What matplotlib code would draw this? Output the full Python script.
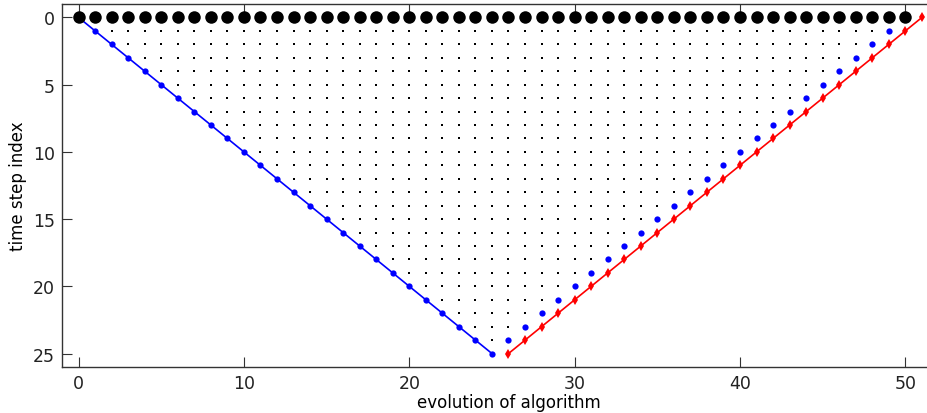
import matplotlib
matplotlib.use("Agg")
import matplotlib.pyplot as plt
import numpy as np

# ── Data ──────────────────────────────────────────────────────────────────────
top_x = list(range(0, 51))              # big black dots on row 0
top_y = [0] * len(top_x)

blue_line_x = list(range(0, 26))        # blue diagonal (forward sweep)
blue_line_y = list(range(0, 26))

red_line_x = list(range(26, 52))        # red diagonal (backward sweep)
red_line_y = list(range(25, -1, -1))

blue_pts_x = list(range(49, 25, -1))    # loose blue dots, rows 1..24
blue_pts_y = list(range(1, 25))

# interior black dots: row r spans x = r+1 .. 49-r
grid_x = [x for r in range(1, 25) for x in range(r + 1, 50 - r)]
grid_y = [r for r in range(1, 25) for x in range(r + 1, 50 - r)]

# ── Plot ──────────────────────────────────────────────────────────────────────
fig = plt.figure(figsize=(9.28, 4.14), dpi=100)
ax = fig.add_axes([62 / 928, 46 / 414, (955 - 62) / 928, (368 - 5) / 414])

ax.plot(grid_x, grid_y, "s", color="black", ms=2.0, mec="black", mew=0)
ax.plot(blue_pts_x, blue_pts_y, "o", color="blue", ms=4.5, mew=0)
ax.plot(blue_line_x, blue_line_y, "o-", color="blue", ms=4.5, mew=0, lw=1.2)
ax.plot(red_line_x, red_line_y, "d-", color="red", ms=5, mew=0, lw=1.2)
ax.plot(top_x, top_y, "o", color="black", ms=9, mew=0)

ax.set_xlim(-1, 53)
ax.set_ylim(26, -1)
ax.set_xticks([0, 10, 20, 30, 40, 50])
ax.set_yticks([0, 5, 10, 15, 20, 25])
ax.tick_params(direction="in", length=7, width=0.8, labelsize=12.5,
               top=True, right=False, colors="#333333", labelcolor="#222222", pad=5)
for s in ax.spines.values():
    s.set_color("#333333")
    s.set_linewidth(1.0)
ax.spines["right"].set_visible(False)

ax.set_xlabel("evolution of algorithm", fontsize=12, labelpad=1)
ax.set_ylabel("time step index", fontsize=12, labelpad=4)

fig.savefig("out.png", dpi=100, facecolor="white")
